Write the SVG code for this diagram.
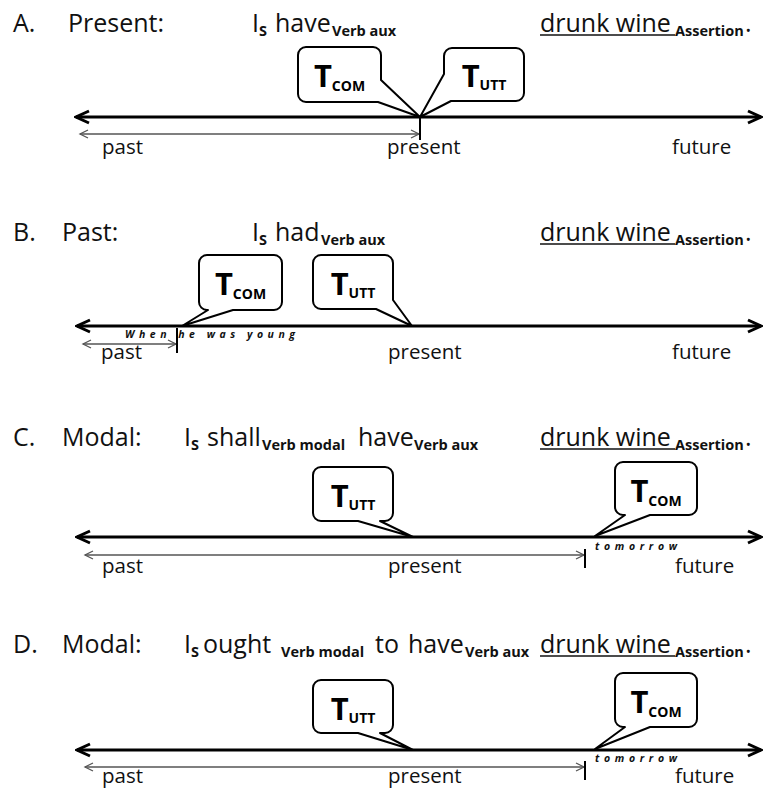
<svg xmlns="http://www.w3.org/2000/svg" width="764" height="788" viewBox="0 0 764 788">
<style>
.h{font-family:"Open Sans","Liberation Sans",sans-serif;font-size:25px;fill:#111}
.sub{font-weight:bold;font-size:14.5px}
.lbl{font-family:"Open Sans","Liberation Sans",sans-serif;font-size:20.5px;fill:#111}
.bx{fill:#fff;stroke:#000;stroke-width:2;stroke-linejoin:round}
.tt{font-family:"Open Sans","Liberation Sans",sans-serif;font-weight:bold;font-size:31px;fill:#000}
.ts{font-size:14px}
.tl{stroke:#000;stroke-width:3;fill:none;marker-start:url(#big);marker-end:url(#big)}
.thin{stroke:#555;stroke-width:1.3;fill:none;marker-start:url(#small);marker-end:url(#small)}
.tick{stroke:#000;stroke-width:2}
.ul{stroke:#111;stroke-width:1.6}
.note{font-family:"Open Sans","Liberation Sans",sans-serif;font-style:italic;font-weight:bold;font-size:10.5px;fill:#111}
</style>
<defs>
<marker id="big" viewBox="-16 -8 18 16" refX="0" refY="0" markerWidth="18" markerHeight="16" markerUnits="userSpaceOnUse" orient="auto-start-reverse">
<path d="M-13,-6 L0,0 L-13,6" fill="none" stroke="#000" stroke-width="3"/>
</marker>
<marker id="small" viewBox="-10 -6 12 12" refX="0" refY="0" markerWidth="12" markerHeight="12" markerUnits="userSpaceOnUse" orient="auto-start-reverse">
<path d="M-8,-4 L0,0 L-8,4" fill="none" stroke="#555" stroke-width="1.3"/>
</marker>
</defs>
<rect width="764" height="788" fill="#fff"/>

<g id="headings">
<g id="heading-a">
<text class="h" y="32"><tspan x="13">A.</tspan><tspan x="68">Present:</tspan><tspan x="252">I</tspan><tspan class="sub" x="259" y="36">S</tspan><tspan x="275" y="32">have</tspan><tspan class="sub" x="332" y="35.5">Verb aux</tspan><tspan x="540" y="32">drunk wine</tspan><tspan class="sub" x="675" y="35.5">Assertion</tspan><tspan x="745" y="32">.</tspan></text>
<line class="ul" x1="540" y1="35" x2="675" y2="35"/>
</g>
<g id="heading-b">
<text class="h" y="241"><tspan x="13">B.</tspan><tspan x="62">Past:</tspan><tspan x="252">I</tspan><tspan class="sub" x="259" y="245">S</tspan><tspan x="275" y="241">had</tspan><tspan class="sub" x="321" y="244.5">Verb aux</tspan><tspan x="540" y="241">drunk wine</tspan><tspan class="sub" x="675" y="244.5">Assertion</tspan><tspan x="745" y="241">.</tspan></text>
<line class="ul" x1="540" y1="244" x2="675" y2="244"/>
</g>
<g id="heading-c">
<text class="h" y="446"><tspan x="13">C.</tspan><tspan x="62">Modal:</tspan><tspan x="184">I</tspan><tspan class="sub" x="191" y="450">S</tspan><tspan x="207" y="446">shall</tspan><tspan class="sub" x="262" y="449.5">Verb modal</tspan><tspan x="358" y="446">have</tspan><tspan class="sub" x="414" y="449.5">Verb aux</tspan><tspan x="540" y="446">drunk wine</tspan><tspan class="sub" x="675" y="449.5">Assertion</tspan><tspan x="745" y="446">.</tspan></text>
<line class="ul" x1="540" y1="449" x2="675" y2="449"/>
</g>
<g id="heading-d">
<text class="h" y="653"><tspan x="13">D.</tspan><tspan x="62">Modal:</tspan><tspan x="184">I</tspan><tspan class="sub" x="191" y="657">S</tspan><tspan x="203" y="653">ought</tspan><tspan class="sub" x="281" y="656.5">Verb modal</tspan><tspan x="375" y="653">to</tspan><tspan x="408" y="653">have</tspan><tspan class="sub" x="465" y="656.5">Verb aux</tspan><tspan x="540" y="653">drunk wine</tspan><tspan class="sub" x="675" y="656.5">Assertion</tspan><tspan x="745" y="653">.</tspan></text>
<line class="ul" x1="540" y1="656" x2="675" y2="656"/>
</g>
</g>

<g id="connectors">
<line class="tl" x1="76" y1="117" x2="761" y2="117"/>
<line class="thin" x1="80" y1="134" x2="419" y2="134"/>
<line class="tick" x1="420" y1="117" x2="420" y2="140"/>

<line class="tl" x1="77" y1="326" x2="761" y2="326"/>
<line class="thin" x1="83" y1="344" x2="176" y2="344"/>
<line class="tick" x1="177" y1="328" x2="177" y2="353"/>

<line class="tl" x1="77" y1="537" x2="761" y2="537"/>
<line class="thin" x1="85" y1="555" x2="584" y2="555"/>
<line class="tick" x1="585" y1="549" x2="585" y2="568"/>

<line class="tl" x1="77" y1="750" x2="761" y2="750"/>
<line class="thin" x1="85" y1="767" x2="584" y2="767"/>
<line class="tick" x1="585" y1="761" x2="585" y2="780"/>
</g>

<g id="labels">
<text class="lbl" y="154"><tspan x="102">past</tspan><tspan x="387">present</tspan><tspan x="672">future</tspan></text>
<text class="lbl" y="359"><tspan x="101">past</tspan><tspan x="388">present</tspan><tspan x="672">future</tspan></text>
<text class="lbl" y="573"><tspan x="102">past</tspan><tspan x="388">present</tspan><tspan x="675">future</tspan></text>
<text class="lbl" y="783"><tspan x="102">past</tspan><tspan x="388">present</tspan><tspan x="675">future</tspan></text>
<text class="note" x="125" y="338" textLength="170" lengthAdjust="spacing">When he was young</text>
<text class="note" x="595" y="550" textLength="82" lengthAdjust="spacing">tomorrow</text>
<text class="note" x="595" y="762" textLength="82" lengthAdjust="spacing">tomorrow</text>
</g>

<g id="a-tcom">
<path class="bx" d="M306,47 H373 A8,8 0 0 1 381,55 V80 L420,117 L378,102 H306 A8,8 0 0 1 298,94 V55 A8,8 0 0 1 306,47 Z"/>
<text class="tt" x="339.5" y="87" text-anchor="middle">T<tspan class="ts" dy="4">COM</tspan></text>
</g>
<g id="a-tutt">
<path class="bx" d="M452,48 H516 A8,8 0 0 1 524,56 V93 A8,8 0 0 1 516,101 H451 L420,117 L444,74 V56 A8,8 0 0 1 452,48 Z"/>
<text class="tt" x="484" y="87" text-anchor="middle">T<tspan class="ts" dy="3">UTT</tspan></text>
</g>

<g id="b-tcom">
<path class="bx" d="M207,255 H274 A8,8 0 0 1 282,263 V302 A8,8 0 0 1 274,310 H233 L182,326 L208,310 H207 A8,8 0 0 1 199,302 V263 A8,8 0 0 1 207,255 Z"/>
<text class="tt" x="240.5" y="295" text-anchor="middle">T<tspan class="ts" dy="4">COM</tspan></text>
</g>
<g id="b-tutt">
<path class="bx" d="M321,255 H385 A8,8 0 0 1 393,263 V300 L412,326 L376,309 H321 A8,8 0 0 1 313,301 V263 A8,8 0 0 1 321,255 Z"/>
<text class="tt" x="353" y="295" text-anchor="middle">T<tspan class="ts" dy="3">UTT</tspan></text>
</g>

<g id="c-tutt">
<path class="bx" d="M321,467 H385 A8,8 0 0 1 393,475 V513 A8,8 0 0 1 385,521 H380 L413,537 L358,521 H321 A8,8 0 0 1 313,513 V475 A8,8 0 0 1 321,467 Z"/>
<text class="tt" x="353" y="507" text-anchor="middle">T<tspan class="ts" dy="3">UTT</tspan></text>
</g>
<g id="c-tcom">
<path class="bx" d="M623,462 H689 A8,8 0 0 1 697,470 V507 A8,8 0 0 1 689,515 H650 L595,536 L625,515 H623 A8,8 0 0 1 615,507 V470 A8,8 0 0 1 623,462 Z"/>
<text class="tt" x="656" y="502" text-anchor="middle">T<tspan class="ts" dy="4">COM</tspan></text>
</g>

<g id="d-tutt">
<path class="bx" d="M321,680 H385 A8,8 0 0 1 393,688 V725 A8,8 0 0 1 385,733 H380 L413,750 L358,733 H321 A8,8 0 0 1 313,725 V688 A8,8 0 0 1 321,680 Z"/>
<text class="tt" x="353" y="720" text-anchor="middle">T<tspan class="ts" dy="3">UTT</tspan></text>
</g>
<g id="d-tcom">
<path class="bx" d="M623,673 H689 A8,8 0 0 1 697,681 V719 A8,8 0 0 1 689,727 H650 L595,749 L625,727 H623 A8,8 0 0 1 615,719 V681 A8,8 0 0 1 623,673 Z"/>
<text class="tt" x="656" y="713" text-anchor="middle">T<tspan class="ts" dy="4">COM</tspan></text>
</g>
</svg>
